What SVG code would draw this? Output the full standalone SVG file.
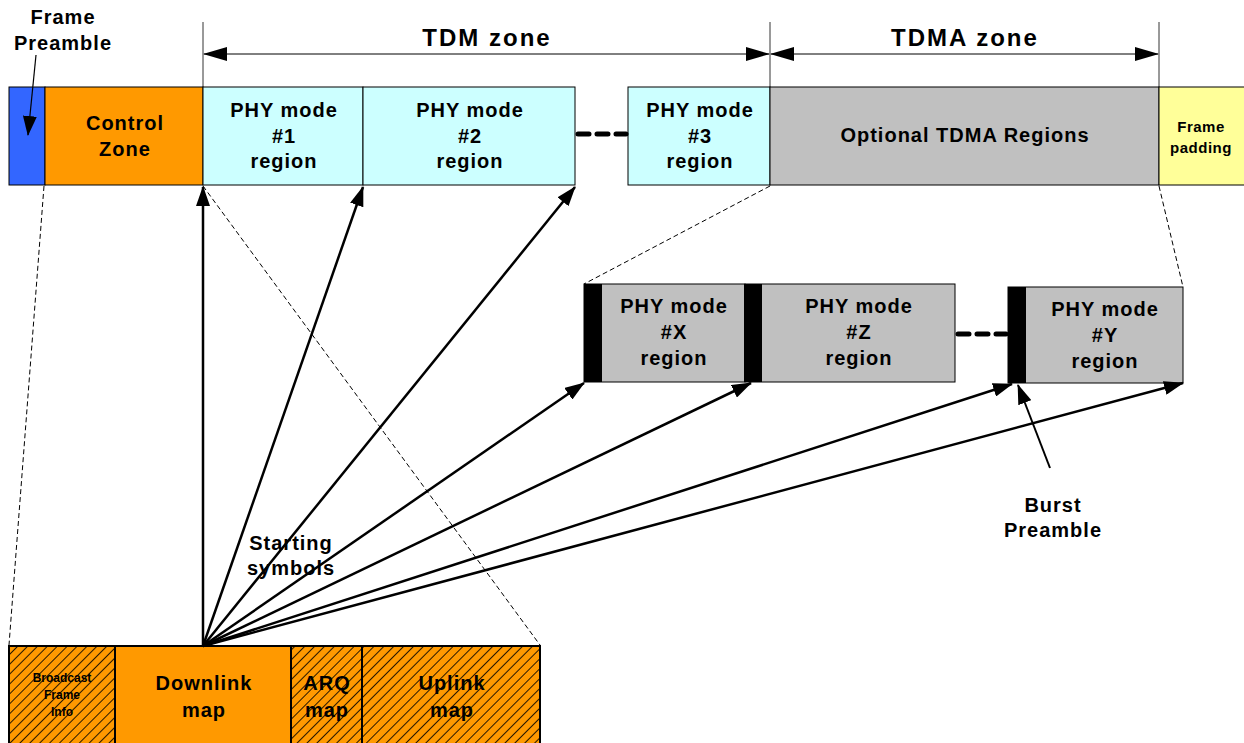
<svg xmlns="http://www.w3.org/2000/svg" width="1244" height="743" viewBox="0 0 1244 743">
<style>
text{font-family:"Liberation Sans",Arial,sans-serif;font-weight:bold;fill:#000;text-anchor:middle}
.t20{font-size:20px;letter-spacing:1px}
.t24{font-size:24px;letter-spacing:2px}
.t15{font-size:15px;letter-spacing:0.5px}
.t12{font-size:12px}
.box{stroke:#000;stroke-width:1}
.thin{stroke:#000;stroke-width:0.8;fill:none}
.dash{stroke:#000;stroke-width:1;stroke-dasharray:5 3;fill:none}
.dots{stroke:#000;stroke-width:5;stroke-dasharray:11 8;stroke-linecap:round;fill:none}
.arr{stroke:#000;stroke-width:2.5;fill:none;marker-end:url(#ah)}
.dim{stroke:#000;stroke-width:1;fill:none;marker-start:url(#dh);marker-end:url(#dh)}
</style>
<defs>
<marker id="ah" markerUnits="userSpaceOnUse" markerWidth="20" markerHeight="14" viewBox="0 0 20 14" refX="19" refY="7" orient="auto">
<path d="M0,0 L20,7 L0,14 z" fill="#000"/>
</marker>
<marker id="dh" markerUnits="userSpaceOnUse" markerWidth="24" markerHeight="14" viewBox="0 0 24 14" refX="23" refY="7" orient="auto-start-reverse">
<path d="M0,0 L24,7 L0,14 z" fill="#000"/>
</marker>
<pattern id="hatch" patternUnits="userSpaceOnUse" width="7" height="7" patternTransform="rotate(45)">
<rect width="7" height="7" fill="#FF9900"/>
<line x1="0" y1="0" x2="0" y2="7" stroke="#000" stroke-width="1.7"/>
</pattern>
</defs>

<g id="dimensions">
<line class="thin" x1="203" y1="22" x2="203" y2="87"/>
<line class="thin" x1="770" y1="22" x2="770" y2="87"/>
<line class="thin" x1="1159" y1="22" x2="1159" y2="87"/>
<line class="dim" x1="204" y1="54" x2="769" y2="54"/>
<line class="dim" x1="771" y1="54" x2="1158" y2="54"/>
<text class="t24" x="487" y="46">TDM zone</text>
<text class="t24" x="965" y="46">TDMA zone</text>
</g>

<g id="frame-preamble-label">
<text class="t20" x="63" y="24">Frame</text>
<text class="t20" x="63" y="50">Preamble</text>
</g>

<g id="frame-preamble"><rect class="box" x="9" y="87" width="36" height="98" fill="#3366FF"/></g>
<g id="control-zone"><rect class="box" x="45" y="87" width="158" height="98" fill="#FF9900"/>
<text class="t20" x="125" y="130">Control</text><text class="t20" x="125" y="156">Zone</text></g>
<g id="phy1"><rect class="box" x="203" y="87" width="160" height="98" fill="#CCFFFF"/>
<text class="t20" x="284" y="117">PHY mode</text><text class="t20" x="284" y="143">#1</text><text class="t20" x="284" y="168">region</text></g>
<g id="phy2"><rect class="box" x="363" y="87" width="212" height="98" fill="#CCFFFF"/>
<text class="t20" x="470" y="117">PHY mode</text><text class="t20" x="470" y="143">#2</text><text class="t20" x="470" y="168">region</text></g>
<g id="phy3"><rect class="box" x="628" y="87" width="142" height="98" fill="#CCFFFF"/>
<text class="t20" x="700" y="117">PHY mode</text><text class="t20" x="700" y="143">#3</text><text class="t20" x="700" y="168">region</text></g>
<g id="tdma-regions"><rect class="box" x="770" y="87" width="389" height="98" fill="#C0C0C0"/>
<text class="t20" x="965" y="142">Optional TDMA Regions</text></g>
<g id="frame-padding"><rect class="box" x="1159" y="87" width="90" height="98" fill="#FFFF99"/>
<text class="t15" x="1201" y="132">Frame</text><text class="t15" x="1201" y="153">padding</text></g>

<g id="phyX"><rect class="box" x="584" y="284" width="161" height="98" fill="#C0C0C0"/>
<rect x="584" y="284" width="18" height="98" fill="#000"/>
<text class="t20" x="674" y="313">PHY mode</text><text class="t20" x="674" y="339">#X</text><text class="t20" x="674" y="365">region</text></g>
<g id="phyZ"><rect class="box" x="745" y="284" width="210" height="98" fill="#C0C0C0"/>
<rect x="744" y="284" width="18" height="98" fill="#000"/>
<text class="t20" x="859" y="313">PHY mode</text><text class="t20" x="859" y="339">#Z</text><text class="t20" x="859" y="365">region</text></g>
<g id="phyY"><rect class="box" x="1008" y="287" width="175" height="96" fill="#C0C0C0"/>
<rect x="1008" y="287" width="18" height="96" fill="#000"/>
<text class="t20" x="1105" y="316">PHY mode</text><text class="t20" x="1105" y="342">#Y</text><text class="t20" x="1105" y="368">region</text></g>

<g id="broadcast-info"><rect x="9" y="646" width="106" height="100" fill="url(#hatch)" stroke="#000" stroke-width="2"/>
<text class="t12" x="62" y="682">Broadcast</text><text class="t12" x="62" y="699">Frame</text><text class="t12" x="62" y="716">Info</text></g>
<g id="downlink-map"><rect x="115" y="646" width="176" height="100" fill="#FF9900" stroke="#000" stroke-width="2"/>
<text class="t20" x="204" y="690">Downlink</text><text class="t20" x="204" y="717">map</text></g>
<g id="arq-map"><rect x="291" y="646" width="71" height="100" fill="url(#hatch)" stroke="#000" stroke-width="2"/>
<text class="t20" x="327" y="690">ARQ</text><text class="t20" x="327" y="717">map</text></g>
<g id="uplink-map"><rect x="362" y="646" width="178" height="100" fill="url(#hatch)" stroke="#000" stroke-width="2"/>
<text class="t20" x="452" y="690">Uplink</text><text class="t20" x="452" y="717">map</text></g>

<g id="labels">
<text class="t20" x="291" y="550">Starting</text><text class="t20" x="291" y="575">symbols</text>
<text class="t20" x="1053" y="512">Burst</text><text class="t20" x="1053" y="537">Preamble</text>
</g>

<g id="connectors">
<path class="dash" d="M44,186 L9,645"/>
<path class="dash" d="M203,186 L540,645"/>
<path class="dash" d="M770,186 L584,284"/>
<path class="dash" d="M1159,186 L1183,287"/>
<path class="dots" d="M578,134 L626,134"/>
<path class="dots" d="M958,334 L1006,334"/>
<path class="arr" style="stroke-width:1.2" d="M36,55 L28,135"/>
<path class="arr" d="M203,646 L203,187"/>
<path class="arr" d="M203,646 L363,187"/>
<path class="arr" d="M203,646 L575,187"/>
<path class="arr" d="M203,646 L584,383"/>
<path class="arr" d="M203,646 L751,383"/>
<path class="arr" d="M203,646 L1012,384"/>
<path class="arr" d="M203,646 L1183,383"/>
<path class="arr" style="stroke-width:2" d="M1050,468 L1018,385"/>
</g>
</svg>
